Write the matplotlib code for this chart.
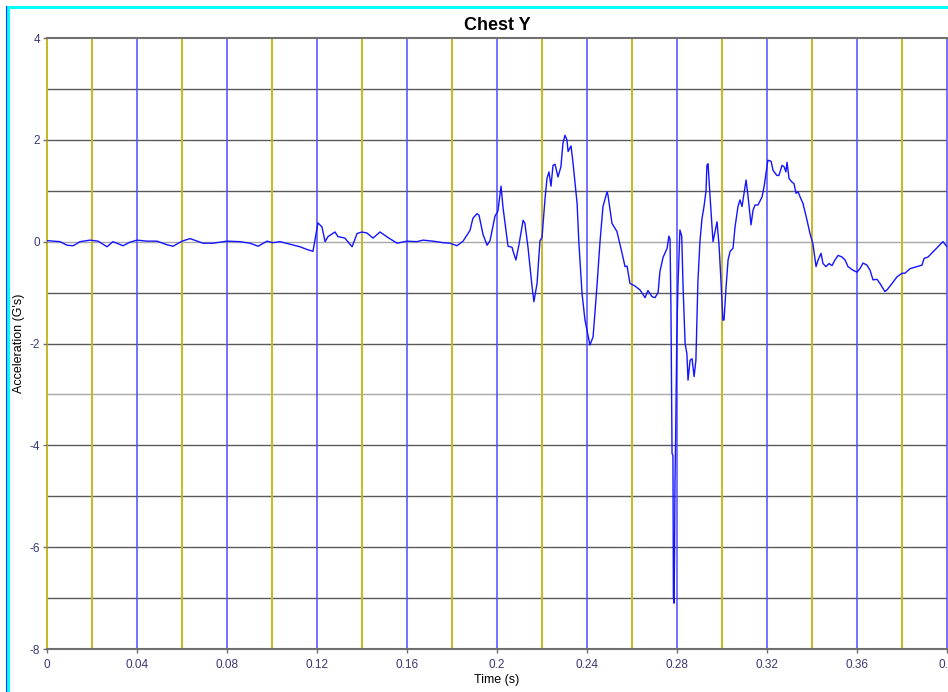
#!/usr/bin/env python3
"""
Chest Y acceleration trace, redrawn from a screenshot.
"""

import matplotlib

matplotlib.use("Agg")
import matplotlib.pyplot as plt
from matplotlib.lines import Line2D

# values
time_s = [
    0.0000, 0.0058, 0.0089, 0.0116, 0.0147, 0.0191, 0.0227, 0.0267, 0.0293, 0.0338,
    0.0369, 0.0400, 0.0444, 0.0489, 0.0533, 0.0560, 0.0600, 0.0636, 0.0667, 0.0693,
    0.0738, 0.0800, 0.0858, 0.0902, 0.0938, 0.0978, 0.1004, 0.1036, 0.1080, 0.1124,
    0.1160, 0.1182, 0.1191, 0.1204, 0.1222, 0.1236, 0.1249, 0.1280, 0.1293, 0.1324,
    0.1356, 0.1378, 0.1400, 0.1422, 0.1449, 0.1480, 0.1516, 0.1556, 0.1600, 0.1644,
    0.1671, 0.1716, 0.1760, 0.1791, 0.1822, 0.1849, 0.1880, 0.1893, 0.1911, 0.1920,
    0.1938, 0.1956, 0.1969, 0.1991, 0.2004, 0.2018, 0.2027, 0.2049, 0.2067, 0.2071,
    0.2084, 0.2098, 0.2116, 0.2124, 0.2138, 0.2156, 0.2164, 0.2178, 0.2191, 0.2200,
    0.2213, 0.2222, 0.2231, 0.2240, 0.2249, 0.2258, 0.2271, 0.2284, 0.2293, 0.2302,
    0.2311, 0.2316, 0.2329, 0.2338, 0.2356, 0.2364, 0.2378, 0.2391, 0.2404, 0.2413,
    0.2427, 0.2444, 0.2458, 0.2471, 0.2489, 0.2493, 0.2511, 0.2533, 0.2556, 0.2569,
    0.2578, 0.2591, 0.2613, 0.2636, 0.2658, 0.2671, 0.2689, 0.2702, 0.2716, 0.2724,
    0.2738, 0.2756, 0.2764, 0.2769, 0.2773, 0.2778, 0.2782, 0.2784, 0.2787, 0.2789,
    0.2791, 0.2794, 0.2799, 0.2804, 0.2813, 0.2821, 0.2827, 0.2836, 0.2844, 0.2849,
    0.2858, 0.2867, 0.2876, 0.2884, 0.2889, 0.2893, 0.2902, 0.2911, 0.2920, 0.2929,
    0.2933, 0.2938, 0.2947, 0.2960, 0.2969, 0.2978, 0.2987, 0.2996, 0.3004, 0.3009,
    0.3018, 0.3027, 0.3036, 0.3049, 0.3058, 0.3071, 0.3080, 0.3089, 0.3098, 0.3107,
    0.3116, 0.3129, 0.3138, 0.3147, 0.3160, 0.3178, 0.3187, 0.3200, 0.3204, 0.3218,
    0.3227, 0.3244, 0.3253, 0.3267, 0.3276, 0.3284, 0.3289, 0.3298, 0.3311, 0.3320,
    0.3329, 0.3338, 0.3347, 0.3360, 0.3378, 0.3391, 0.3404, 0.3418, 0.3427, 0.3440,
    0.3449, 0.3462, 0.3476, 0.3489, 0.3502, 0.3516, 0.3533, 0.3547, 0.3560, 0.3582,
    0.3600, 0.3613, 0.3627, 0.3644, 0.3658, 0.3671, 0.3689, 0.3702, 0.3724, 0.3733,
    0.3756, 0.3778, 0.3800, 0.3813, 0.3836, 0.3867, 0.3889, 0.3898, 0.3916, 0.3938,
    0.3960, 0.3982, 0.4000,
]
accel_g = [
    0.02, 0.00, -0.07, -0.08, 0.00, 0.03, 0.01, -0.10, 0.00, -0.08,
    -0.01, 0.03, 0.01, 0.01, -0.06, -0.09, 0.01, 0.06, 0.01, -0.03,
    -0.03, 0.01, 0.00, -0.03, -0.09, 0.01, -0.02, 0.00, -0.05, -0.10,
    -0.16, -0.19, 0.03, 0.37, 0.29, 0.00, 0.10, 0.19, 0.10, 0.07,
    -0.10, 0.16, 0.19, 0.17, 0.07, 0.19, 0.08, -0.03, 0.01, 0.00,
    0.03, 0.01, -0.02, -0.03, -0.08, 0.01, 0.22, 0.46, 0.55, 0.52,
    0.14, -0.07, 0.02, 0.50, 0.60, 1.09, 0.66, -0.09, -0.11, -0.18,
    -0.36, -0.05, 0.42, 0.36, -0.12, -0.89, -1.18, -0.82, 0.02, 0.08,
    0.82, 1.24, 1.37, 1.09, 1.50, 1.52, 1.27, 1.47, 1.93, 2.09,
    2.00, 1.77, 1.88, 1.54, 0.75, -0.03, -1.02, -1.54, -1.83, -2.03,
    -1.87, -0.89, 0.01, 0.69, 0.98, 0.92, 0.36, 0.20, -0.23, -0.49,
    -0.48, -0.82, -0.87, -0.95, -1.10, -0.96, -1.08, -1.10, -1.00, -0.59,
    -0.31, -0.13, 0.11, 0.05, -1.28, -4.16, -4.20, -6.98, -7.10, -6.20,
    -4.75, -3.83, -1.93, -0.89, 0.23, 0.11, -0.89, -2.00, -2.20, -2.72,
    -2.33, -2.30, -2.65, -2.33, -1.47, -0.77, 0.00, 0.45, 0.69, 1.00,
    1.50, 1.53, 0.88, 0.00, 0.20, 0.39, -0.08, -0.82, -1.54, -1.54,
    -0.90, -0.36, -0.19, -0.13, 0.29, 0.69, 0.82, 0.69, 0.95, 1.21,
    0.88, 0.33, 0.62, 0.72, 0.72, 0.88, 1.08, 1.47, 1.60, 1.58,
    1.40, 1.30, 1.30, 1.50, 1.47, 1.37, 1.56, 1.24, 1.17, 1.14,
    0.95, 0.98, 0.88, 0.75, 0.42, 0.16, -0.04, -0.49, -0.36, -0.23,
    -0.43, -0.49, -0.43, -0.47, -0.36, -0.27, -0.30, -0.36, -0.49, -0.56,
    -0.60, -0.53, -0.42, -0.46, -0.56, -0.75, -0.74, -0.82, -0.98, -0.95,
    -0.82, -0.69, -0.62, -0.62, -0.53, -0.49, -0.46, -0.33, -0.30, -0.20,
    -0.10, 0.00, -0.10,
]

xticks = [0, 0.04, 0.08, 0.12, 0.16, 0.2, 0.24, 0.28, 0.32, 0.36, 0.4]
xtick_labels = ["0", "0.04", "0.08", "0.12", "0.16", "0.2", "0.24", "0.28", "0.32", "0.36", "0.4"]
yticks = [4, 2, 0, -2, -4, -6, -8]


def main():
    plt.rcParams["font.family"] = ["Liberation Sans", "DejaVu Sans"]
    plt.rcParams["axes.unicode_minus"] = False

    W, H = 948, 692
    fg = plt.figure(figsize=(W / 100, H / 100), dpi=100)
    ax = fg.add_axes([47 / W, 1 - 649 / H, 900 / W, 611 / H])

    ax.set_xlim(0, 0.4)
    ax.set_ylim(-8, 4)

    # horizontal grid, every 1 G
    for v in range(-7, 4):
        col = "#a8a8a8" if v in (0, -3) else "#5a5a5a"
        ax.axhline(v, color=col, lw=1.0, zorder=1)

    # vertical grid, every 0.02 s: blue on labelled ticks, olive/yellow between
    for i in range(0, 21):
        t = i * 0.02
        if i % 2 == 1 or i == 0:
            ax.axvline(t, color="#c8b820", lw=1.4, zorder=1, clip_on=False)
        else:
            ax.axvline(t, color="#4c4cff", lw=1.1, zorder=1, clip_on=False)

    ax.plot(time_s, accel_g, color="#1414ff", lw=1.0, zorder=3)

    for side in ("left", "right"):
        ax.spines[side].set_visible(False)
    for side in ("top", "bottom"):
        ax.spines[side].set_color("#707070")
        ax.spines[side].set_linewidth(1.5)

    ax.set_xticks(xticks)
    ax.set_xticklabels(xtick_labels)
    ax.set_yticks(yticks)
    ax.tick_params(axis="both", labelsize=8.5, labelcolor="#383878", color="#707070",
                   length=3, width=1)
    ax.tick_params(axis="x", pad=4)
    ax.tick_params(axis="y", pad=2)

    ax.set_title("Chest Y", fontsize=13, fontweight="bold", pad=6)
    ax.set_xlabel("Time (s)", fontsize=9, labelpad=2)
    fg.text(19 / W, 1 - 343 / H, "Acceleration (G's)", fontsize=9, rotation=90,
            ha="center", va="center")

    # cyan window frame on the top and left edges
    fg.add_artist(Line2D([7 / W, 1], [1 - 7 / H, 1 - 7 / H], color="cyan", lw=2.2,
                         transform=fg.transFigure))
    fg.add_artist(Line2D([8 / W, 8 / W], [0, 1 - 7 / H], color="cyan", lw=2.2,
                         transform=fg.transFigure))
    fg.add_artist(Line2D([6 / W, 6 / W], [0, 1 - 6 / H], color="#3030ff", lw=0.8,
                         transform=fg.transFigure))

    fg.savefig("out.png", dpi=100)


if __name__ == "__main__":
    main()
